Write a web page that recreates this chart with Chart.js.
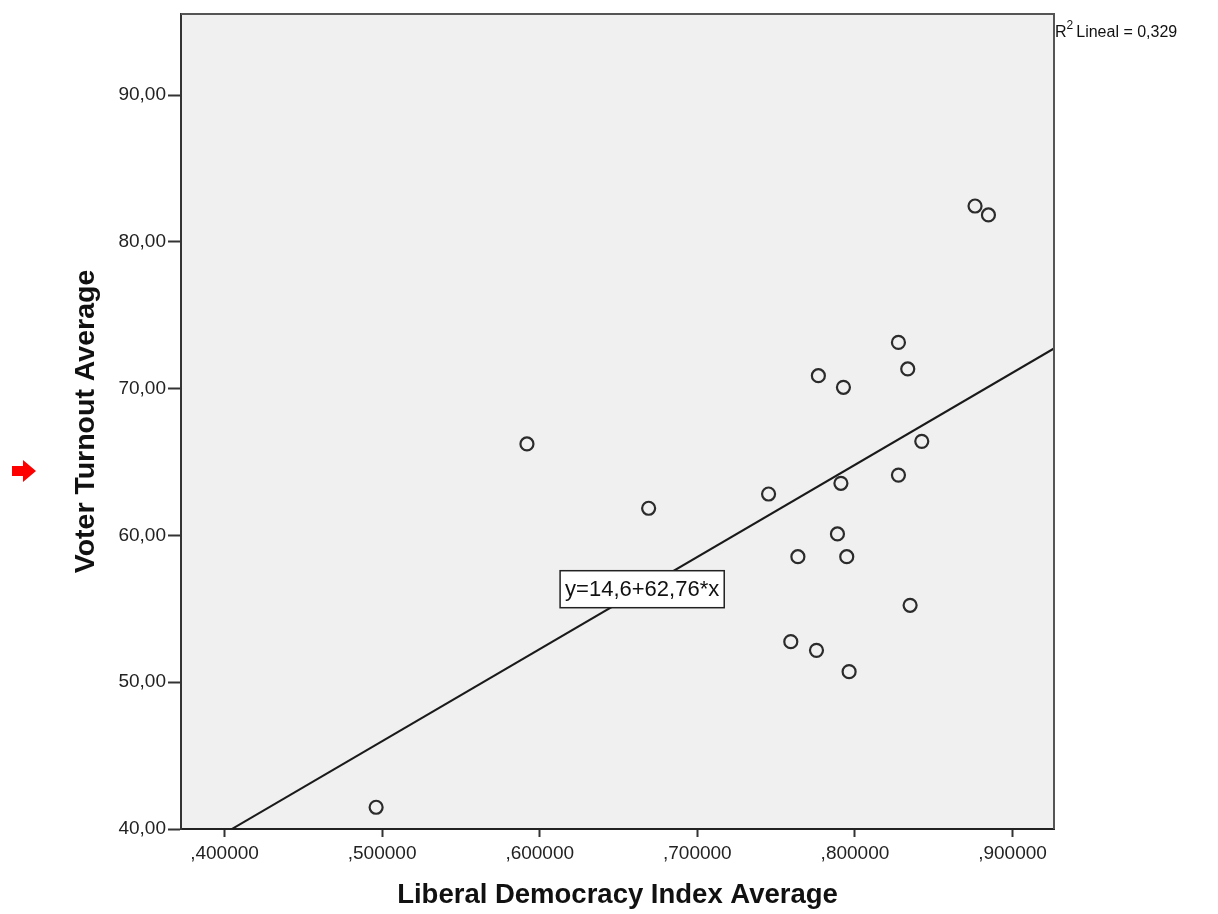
<!DOCTYPE html>
<html>
<head>
<meta charset="utf-8">
<title>Voter Turnout vs Liberal Democracy Index</title>
<script src="https://cdn.jsdelivr.net/npm/chart.js@4.4.1/dist/chart.umd.min.js"></script>
<style>
  html, body { margin: 0; padding: 0; background: #fff; }
  canvas { display: block; }
</style>
</head>
<body>
<canvas id="scatterChart" width="1218" height="914"></canvas>
<script>
// One entry per case: Liberal Democracy Index Average (x), Voter Turnout Average (y)
const democracyIndex = [0.8762, 0.8847, 0.8276, 0.8335, 0.7768, 0.7927, 0.8424, 0.5919, 0.8276, 0.7911,
                        0.7452, 0.6691, 0.7889, 0.7638, 0.7948, 0.8350, 0.7593, 0.7756, 0.7963, 0.4962];
const voterTurnout = [82.44, 81.83, 73.15, 71.34, 70.88, 70.09, 66.41, 66.23, 64.11, 63.55,
                      62.82, 61.85, 60.10, 58.55, 58.55, 55.24, 52.76, 52.17, 50.72, 41.48];

const xTicks = [0.4, 0.5, 0.6, 0.7, 0.8, 0.9];
const yTicks = [40, 50, 60, 70, 80, 90];
const xRange = [0.3724, 0.9263];
const yRange = [40, 95.52];

// linear fit printed on the chart
const fitIntercept = 14.6;
const fitSlope = 62.76;
const rSquared = 0.329;

const FONT = '"Liberation Sans", Arial, sans-serif';
const comma = v => String(v).replace('.', ',');

const points = democracyIndex.map((x, i) => ({ x: x, y: voterTurnout[i] }));
const fitLine = xRange.map(x => ({ x: x, y: fitIntercept + fitSlope * x }));

// plot background, frame, fit label, R² note and the red marker
const spssDecor = {
    id: 'spssDecor',
    beforeDraw(chart) {
        const { ctx, chartArea: a } = chart;
        ctx.save();
        ctx.fillStyle = '#f0f0f0';
        ctx.fillRect(a.left, a.top, a.right - a.left, a.bottom - a.top);
        ctx.restore();
    },
    afterDatasetsDraw(chart) {
        const { ctx, chartArea: a, scales } = chart;
        ctx.save();

        // frame top / right
        ctx.strokeStyle = '#555';
        ctx.lineWidth = 2;
        ctx.beginPath();
        ctx.moveTo(a.left, a.top);
        ctx.lineTo(a.right, a.top);
        ctx.lineTo(a.right, a.bottom);
        ctx.stroke();

        // equation box sitting on the fit line
        const labelX = 0.665;
        const cx = scales.x.getPixelForValue(labelX);
        const cy = scales.y.getPixelForValue(fitIntercept + fitSlope * labelX);
        const eq = 'y=' + comma(fitIntercept) + '+' + comma(fitSlope) + '*x';
        ctx.font = '22px ' + FONT;
        const w = ctx.measureText(eq).width + 10;
        const h = 37;
        ctx.fillStyle = '#fff';
        ctx.fillRect(cx - w / 2, cy - h / 2, w, h);
        ctx.strokeStyle = '#222';
        ctx.lineWidth = 1.5;
        ctx.strokeRect(cx - w / 2, cy - h / 2, w, h);
        ctx.fillStyle = '#111';
        ctx.textAlign = 'center';
        ctx.textBaseline = 'middle';
        ctx.fillText(eq, cx, cy + 1);

        // R² Lineal note
        ctx.textAlign = 'left';
        ctx.textBaseline = 'alphabetic';
        let tx = a.right + 1;
        ctx.font = '16px ' + FONT;
        ctx.fillText('R', tx, 37);
        tx += ctx.measureText('R').width;
        ctx.font = '12px ' + FONT;
        ctx.fillText('2', tx, 29);
        tx += ctx.measureText('2').width + 3;
        ctx.font = '16px ' + FONT;
        ctx.fillText('Lineal = ' + comma(rSquared), tx, 37);

        // red arrow marker
        ctx.fillStyle = '#f00';
        ctx.beginPath();
        ctx.moveTo(12, 466);
        ctx.lineTo(23, 466);
        ctx.lineTo(23, 460);
        ctx.lineTo(36, 471);
        ctx.lineTo(23, 482);
        ctx.lineTo(23, 476);
        ctx.lineTo(12, 476);
        ctx.closePath();
        ctx.fill();

        ctx.restore();
    }
};

const ctx = document.getElementById('scatterChart').getContext('2d');
const scatterChart = new Chart(ctx, {
    type: 'scatter',
    data: {
        datasets: [{
            label: 'Voter Turnout Average',
            data: points,
            pointStyle: 'circle',
            pointRadius: 6.5,
            pointBorderWidth: 2.2,
            borderColor: '#2b2b2b',
            backgroundColor: 'rgba(0,0,0,0)',
        }, {
            label: 'Fit line',
            data: fitLine,
            showLine: true,
            pointRadius: 0,
            borderColor: '#1a1a1a',
            borderWidth: 2,
        }]
    },
    options: {
        responsive: false,
        animation: false,
        layout: { padding: { top: 14, right: 164, left: 0, bottom: 0 } },
        plugins: {
            legend: { display: false },
            tooltip: { enabled: false }
        },
        scales: {
            x: {
                type: 'linear',
                min: xRange[0],
                max: xRange[1],
                afterBuildTicks: s => { s.ticks = xTicks.map(v => ({ value: v })); },
                afterFit: s => { s.height = 85; },
                grid: { drawOnChartArea: false, drawTicks: true, tickLength: 8, tickWidth: 2, tickColor: '#333' },
                border: { display: true, color: '#222', width: 2 },
                ticks: {
                    color: '#222',
                    padding: 5,
                    maxRotation: 0,
                    font: { family: FONT, size: 19 },
                    callback: v => ',' + v.toFixed(6).split('.')[1]
                },
                title: {
                    display: true,
                    text: 'Liberal Democracy Index Average',
                    color: '#111',
                    font: { family: FONT, size: 27.5, weight: 'bold' },
                    padding: { top: 0, bottom: 2 }
                }
            },
            y: {
                type: 'linear',
                min: yRange[0],
                max: yRange[1],
                afterBuildTicks: s => { s.ticks = yTicks.map(v => ({ value: v })); },
                afterFit: s => { s.width = 181; },
                grid: { drawOnChartArea: false, drawTicks: true, tickLength: 13, tickWidth: 2, tickColor: '#333' },
                border: { display: true, color: '#333', width: 2 },
                ticks: {
                    color: '#222',
                    padding: 2,
                    font: { family: FONT, size: 19 },
                    callback: v => v.toFixed(2).replace('.', ',')
                },
                title: {
                    display: true,
                    text: 'Voter Turnout Average',
                    color: '#111',
                    font: { family: FONT, size: 28.5, weight: 'bold' },
                    padding: { top: 69, bottom: 0 }
                }
            }
        }
    },
    plugins: [spssDecor]
});
</script>
</body>
</html>
